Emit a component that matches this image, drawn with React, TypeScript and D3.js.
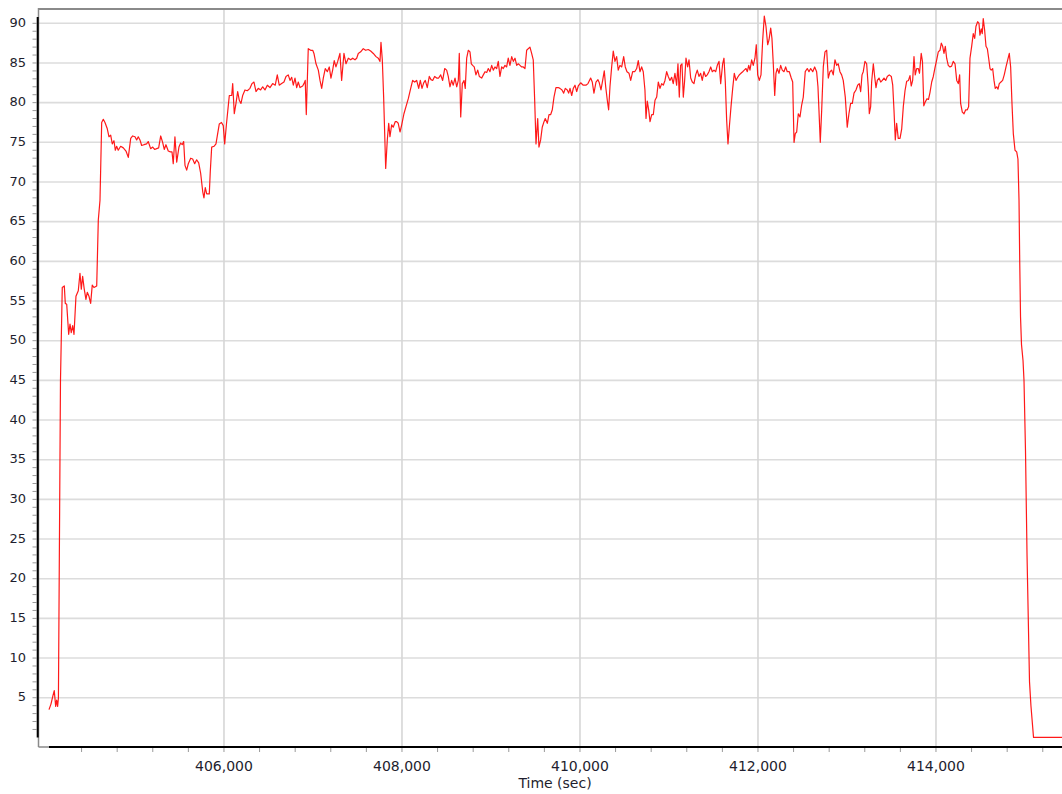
import React from 'react';
import * as d3 from 'd3';

const width = 1062;
const height = 794;

// time (sec), value
const series: [number, number][] = [
  [404034, 3.5], [404056, 4.2], [404079, 5.3], [404093, 5.9], [404109, 3.9], [404120, 4.7], [404131, 3.9], [404140, 5.0],
  [404163, 45], [404183, 56.7], [404206, 56.9], [404217, 54.7], [404233, 54.6], [404255, 50.8], [404270, 52.1], [404284, 51],
  [404300, 51.9], [404315, 50.8], [404337, 55.6], [404363, 56.3], [404382, 58.5], [404397, 56.5], [404412, 58.1], [404430, 56.5],
  [404449, 55.2], [404464, 56.1], [404483, 55.6], [404502, 54.7], [404520, 57], [404539, 56.7], [404570, 56.9], [404588, 65.2],
  [404607, 67.7], [404626, 77.5], [404644, 77.9], [404663, 77.5], [404689, 76.7], [404708, 75.7], [404727, 75.9], [404745, 74.8],
  [404764, 75.2], [404779, 74], [404794, 74.5], [404812, 74], [404839, 74.5], [404869, 74.3], [404899, 73.9], [404925, 73.1],
  [404952, 75.5], [404974, 75.8], [405000, 75.7], [405019, 75.3], [405037, 75.7], [405056, 75.3], [405075, 74.6], [405101, 74.7],
  [405131, 74.8], [405149, 75.1], [405176, 74.2], [405199, 74.4], [405221, 74.1], [405244, 74.2], [405266, 74.3], [405289, 75.8],
  [405311, 75], [405329, 74.1], [405348, 74.7], [405374, 73.9], [405397, 73.8], [405416, 73.8], [405430, 72.3], [405449, 75.7],
  [405469, 72.5], [405494, 74.4], [405513, 74.9], [405531, 74.7], [405547, 75.1], [405562, 72.1], [405581, 71.5], [405599, 72.3],
  [405626, 73], [405648, 72.9], [405671, 72.3], [405693, 72.8], [405716, 72.4], [405738, 71.1], [405761, 68.8], [405775, 68],
  [405790, 69.3], [405806, 68.5], [405835, 68.5], [405846, 71.3], [405862, 74.4], [405888, 74.5], [405910, 74.8], [405925, 75.8],
  [405947, 77.3], [405972, 77.5], [405992, 77.1], [406008, 74.8], [406028, 77.3], [406060, 80.9],
  [406087, 80.9], [406098, 82.4], [406116, 78.6], [406135, 79.9], [406154, 81.4], [406172, 80.3], [406191, 79.9], [406210, 80.9],
  [406236, 81.6], [406262, 81.5], [406292, 81.8], [406315, 82.4], [406337, 82.6], [406360, 81.4], [406385, 81.8], [406412, 81.6],
  [406435, 82], [406461, 81.6], [406487, 82.2], [406517, 81.9], [406547, 82.4], [406576, 82.2], [406599, 83.5], [406621, 82.2],
  [406648, 82.4], [406674, 82.6], [406697, 83.3], [406722, 83.5], [406742, 82.8], [406761, 83.2], [406779, 82.2], [406798, 83.1],
  [406817, 81.9], [406835, 82.6], [406854, 81.9], [406884, 82.1], [406899, 82.4], [406913, 82.8], [406925, 78.5], [406947, 86.8],
  [406974, 86.6], [406997, 86.6], [407011, 86.2], [407034, 84.9], [407060, 84.1], [407079, 82.8], [407098, 81.8], [407116, 83.1],
  [407138, 84.3], [407161, 83.9], [407183, 84.5], [407202, 83.1], [407221, 84.1], [407239, 85.3], [407258, 84.5], [407278, 85.2],
  [407303, 86.2], [407322, 82.8], [407348, 86.2], [407371, 84.9], [407397, 85.6], [407424, 85.4], [407446, 85.6], [407472, 85.4],
  [407491, 85.6], [407509, 86.2], [407536, 86.4], [407565, 86.8], [407592, 86.6], [407621, 86.7], [407648, 86.5], [407678, 86.2],
  [407708, 85.8], [407734, 85.6], [407753, 85.2], [407764, 87.6], [407779, 85.4], [407794, 80.7], [407817, 71.7], [407835, 75.3],
  [407851, 77.4], [407865, 75.7], [407884, 77.2], [407902, 76.9], [407924, 77.6], [407940, 77.6], [407958, 77.4], [407978, 76.3],
  [407997, 77.2], [408022, 78.6], [408045, 79.5], [408071, 80.5], [408098, 81.8], [408120, 82.8], [408143, 82.6], [408165, 82.8],
  [408188, 81.8], [408206, 82.8], [408225, 81.8], [408244, 82.5], [408262, 82.8], [408284, 81.9], [408307, 83.3], [408326, 82.9],
  [408345, 82.8], [408367, 83.3], [408390, 83.1], [408412, 83.1], [408435, 83.5], [408457, 82.8], [408480, 84.3], [408502, 84.1],
  [408520, 83.3], [408539, 82], [408558, 82.8], [408576, 82.2], [408596, 83.1], [408615, 82], [408633, 82.8], [408644, 86.2],
  [408660, 78.2], [408678, 82.4], [408697, 82.8], [408711, 81.8], [408727, 85.6], [408745, 86.6], [408764, 86.4], [408779, 84.9],
  [408794, 84.7], [408812, 84.5], [408831, 83.5], [408851, 84.1], [408869, 83.3], [408896, 83.1], [408914, 83.5], [408933, 83.9],
  [408952, 83.8], [408970, 84.3], [408989, 83.9], [409008, 84.7], [409026, 84.1], [409045, 84.5], [409064, 84.3], [409082, 85.2],
  [409101, 83.3], [409120, 84.5], [409138, 84.3], [409157, 84.7], [409176, 84.5], [409194, 85.6], [409213, 84.7], [409233, 85.8],
  [409251, 85.2], [409270, 85.6], [409289, 84.7], [409307, 84.9], [409326, 84.7], [409345, 84.5], [409363, 84.5], [409382, 84.3],
  [409401, 86.6], [409419, 86.8], [409438, 87], [409457, 86.2], [409475, 85.4], [409491, 80.3], [409506, 74.8], [409525, 78],
  [409539, 74.4], [409558, 75.3], [409576, 76.9], [409596, 77.6], [409610, 78], [409633, 77.4], [409652, 78.5], [409671, 78.5],
  [409689, 79.1], [409708, 80.7], [409730, 81.9], [409756, 81.9], [409775, 81.8], [409798, 81.6], [409817, 81.2], [409835, 81.8],
  [409857, 81.6], [409873, 81.2], [409888, 81.8], [409907, 80.9], [409925, 81.8], [409944, 82.2], [409963, 81.4], [409981, 82.1],
  [410008, 82.5], [410037, 82.2], [410067, 82.2], [410090, 82.4], [410120, 83.1], [410138, 82.6], [410157, 81.2], [410180, 82.6],
  [410202, 82.9], [410217, 82.5], [410236, 81.6], [410255, 82.8], [410273, 84], [410289, 82], [410307, 80.3], [410322, 79.1],
  [410337, 82], [410356, 84.5], [410374, 86.5], [410393, 85.2], [410412, 85.8], [410430, 84.1], [410449, 84.7], [410469, 84.5],
  [410491, 85.8], [410509, 84.5], [410528, 83.9], [410551, 83.7], [410570, 82.8], [410592, 83.9], [410615, 83.9], [410637, 84.3],
  [410655, 85.3], [410674, 83.9], [410693, 84.5], [410711, 83.9], [410730, 81.6], [410742, 78], [410756, 80.2], [410772, 79.1],
  [410787, 77.6], [410806, 78.5], [410824, 78.5], [410843, 80.3], [410862, 80.7], [410880, 82.6], [410899, 81.8], [410918, 82.4],
  [410936, 82.2], [410955, 82.8], [410974, 83.9], [410992, 83.3], [411011, 82.8], [411030, 83.2], [411048, 82.4], [411067, 83.7],
  [411086, 82.2], [411101, 84.9], [411116, 80.7], [411131, 84.7], [411146, 84.9], [411161, 80.7], [411176, 82.8], [411191, 85.6],
  [411210, 84.5], [411225, 85.4], [411244, 83.1], [411262, 82.6], [411281, 82.4], [411300, 83.5], [411318, 84.1], [411337, 83.3],
  [411356, 83.7], [411374, 82.8], [411393, 83.9], [411412, 83.3], [411430, 83.5], [411449, 83.9], [411469, 84.5], [411487, 83.9],
  [411506, 84.1], [411525, 83.9], [411543, 84.7], [411562, 85.2], [411581, 82.4], [411603, 84.9], [411618, 85.6], [411633, 82.6],
  [411648, 77.8], [411663, 74.8], [411678, 76.9], [411697, 79.5], [411716, 81.8], [411734, 83.7], [411753, 82.8], [411772, 83.2],
  [411790, 83.5], [411809, 83.7], [411828, 83.9], [411846, 84.1], [411865, 84.3], [411880, 83.9], [411896, 84.7], [411910, 84.1],
  [411929, 85.4], [411947, 84.7], [411966, 85.6], [411981, 87.3], [411997, 83.5], [412015, 82.8], [412034, 83.5], [412053, 87.9],
  [412071, 90.9], [412090, 89.6], [412109, 87.3], [412124, 87.9], [412143, 89.4], [412157, 88.1], [412172, 84.9], [412188, 80.9],
  [412202, 83.7], [412217, 84.3], [412236, 83.7], [412255, 84.7], [412273, 84.1], [412292, 83.9], [412311, 84.5], [412329, 83.9],
  [412352, 83.9], [412374, 83.1], [412390, 82.6], [412405, 75], [412419, 76.1], [412435, 76.3], [412453, 78.6], [412472, 78.2],
  [412491, 79.7], [412509, 80.7], [412531, 83.9], [412554, 84.3], [412573, 83.9], [412592, 84.3], [412615, 83.9], [412637, 84.5],
  [412659, 83.9], [412674, 82], [412685, 79.1], [412700, 75], [412716, 79.1], [412734, 84.5], [412753, 86.4], [412772, 86.6],
  [412790, 83.1], [412809, 83.9], [412828, 84.1], [412846, 83.5], [412865, 85.4], [412884, 84.7], [412902, 84.9], [412921, 83.9],
  [412940, 83.5], [412958, 82.8], [412981, 80.7], [413003, 76.9], [413022, 78.6], [413041, 79.9], [413060, 79.9], [413079, 81.2],
  [413101, 81.6], [413120, 82.2], [413138, 82.4], [413154, 81.4], [413169, 83.5], [413183, 83.9], [413202, 85.2], [413221, 84.9],
  [413239, 82], [413251, 78.6], [413266, 79.5], [413277, 82.6], [413296, 84.9], [413311, 83.3], [413326, 81.9], [413341, 82.8],
  [413360, 83.1], [413379, 82.6], [413397, 82.8], [413416, 83.1], [413435, 82.8], [413453, 83.3], [413475, 83.5], [413498, 83.3],
  [413514, 82.2], [413528, 79.1], [413543, 75.3], [413558, 77.4], [413576, 75.5], [413596, 75.5], [413615, 76.7], [413633, 79.5],
  [413652, 81.5], [413671, 82.7], [413691, 82.8], [413708, 83.4], [413722, 82.1], [413738, 82.8], [413753, 85.8], [413767, 83.5],
  [413783, 84.3], [413801, 84.3], [413815, 83.7], [413834, 86.2], [413848, 85.2], [413863, 79.6], [413880, 80.1], [413899, 80.5],
  [413916, 80.4], [413933, 81.3], [413952, 82.6], [413970, 83.3], [413989, 84.4], [414008, 85.4], [414026, 86.4], [414045, 86.6],
  [414060, 87.5], [414075, 87.1], [414090, 86.2], [414105, 87.1], [414120, 85.6], [414138, 84.7], [414157, 84.5], [414176, 84.6],
  [414194, 85.2], [414214, 84.9], [414233, 82.8], [414251, 82.4], [414266, 83.5], [414277, 79.9], [414296, 78.8], [414315, 78.6],
  [414334, 79.1], [414352, 79.1], [414367, 79.5], [414382, 85.6], [414401, 87.1], [414419, 88.7], [414435, 88.1], [414449, 89.6],
  [414468, 90.2], [414483, 90], [414494, 88.5], [414509, 89.3], [414520, 88.7], [414531, 90.6], [414547, 89.1], [414562, 87.1],
  [414577, 86.8], [414592, 85.6], [414607, 84.3], [414621, 84.1], [414637, 84.3], [414652, 82.8], [414666, 81.8], [414682, 82],
  [414697, 81.7], [414711, 82.4], [414730, 82.6], [414749, 82.8], [414767, 83.5], [414787, 84.5], [414806, 85.4], [414824, 86.2],
  [414839, 84.5], [414854, 79.9], [414869, 76.1], [414888, 74], [414907, 73.8], [414921, 72.9], [414933, 67.7], [414941, 60],
  [414950, 53], [414961, 49.5], [414978, 47.5], [414989, 45], [415006, 36], [415023, 23], [415051, 7], [415067, 4],
  [415096, 0], [415416, 0],
];

const yLabels = [5, 10, 15, 20, 25, 30, 35, 40, 45, 50, 55, 60, 65, 70, 75, 80, 85, 90];
const xLabels = [406000, 408000, 410000, 412000, 414000];
const xTitle = 'Time (sec)';

const font = "Verdana, 'DejaVu Sans', sans-serif";

export default function App() {
  const x = d3.scaleLinear().domain([404034, 415416]).range([49, 1062]);
  const y = d3.scaleLinear().domain([0, 90]).range([737.4, 23.3]);

  const line = d3
    .line<[number, number]>()
    .x((d) => x(d[0]))
    .y((d) => y(d[1]));

  const yMinor = d3.range(1, 91);
  const xMinor = d3.range(404400, 415400, 400);
  const fmt = d3.format(',');

  return (
    <div style={{ position: 'fixed', left: 0, top: 0 }}>
      <svg width={width} height={height} style={{ display: 'block', background: '#fff' }}>
        {/* grid */}
        {yLabels.map((v) => (
          <line key={'gy' + v} x1={39} x2={width} y1={y(v)} y2={y(v)} stroke="#dcdcdc" strokeWidth={1.6} />
        ))}
        {xLabels.map((v) => (
          <line key={'gx' + v} x1={x(v)} x2={x(v)} y1={9} y2={747} stroke="#d6d6d6" strokeWidth={1.6} />
        ))}

        {/* frame */}
        <line x1={38.5} x2={width} y1={9} y2={9} stroke="#8a8a8a" strokeWidth={2} />
        <line x1={38.5} x2={38.5} y1={8} y2={747} stroke="#8a8a8a" strokeWidth={1.5} />
        <line x1={38.5} x2={50} y1={747} y2={747} stroke="#8a8a8a" strokeWidth={1.5} />

        {/* y axis */}
        {yMinor.map((v) => (
          <line key={'ty' + v} x1={32.5} x2={36.5} y1={y(v)} y2={y(v)} stroke="#9a9a9a" strokeWidth={1} />
        ))}
        <line x1={37.7} x2={37.7} y1={17} y2={737.5} stroke="#000" strokeWidth={2} />
        {yLabels.map((v) => (
          <text key={'ly' + v} x={26} y={y(v) + 3.6} textAnchor="end" fontFamily={font} fontSize={13} fill="#1e1e2e">
            {v}
          </text>
        ))}

        {/* x axis */}
        {xMinor.map((v) => (
          <line key={'tx' + v} x1={x(v)} x2={x(v)} y1={748} y2={752} stroke="#9a9a9a" strokeWidth={1} />
        ))}
        <line x1={49} x2={width} y1={747} y2={747} stroke="#000" strokeWidth={2} />
        {xLabels.map((v) => (
          <text key={'lx' + v} x={x(v)} y={771} textAnchor="middle" fontFamily={font} fontSize={14} fill="#1e1e2e">
            {fmt(v)}
          </text>
        ))}
        <text x={555} y={787.5} textAnchor="middle" fontFamily={font} fontSize={14} fill="#1e1e2e">
          {xTitle}
        </text>

        {/* series */}
        <path d={line(series) || ''} fill="none" stroke="#ff0000" strokeWidth={1.2} strokeOpacity={0.9} strokeLinejoin="round" />
      </svg>
    </div>
  );
}
